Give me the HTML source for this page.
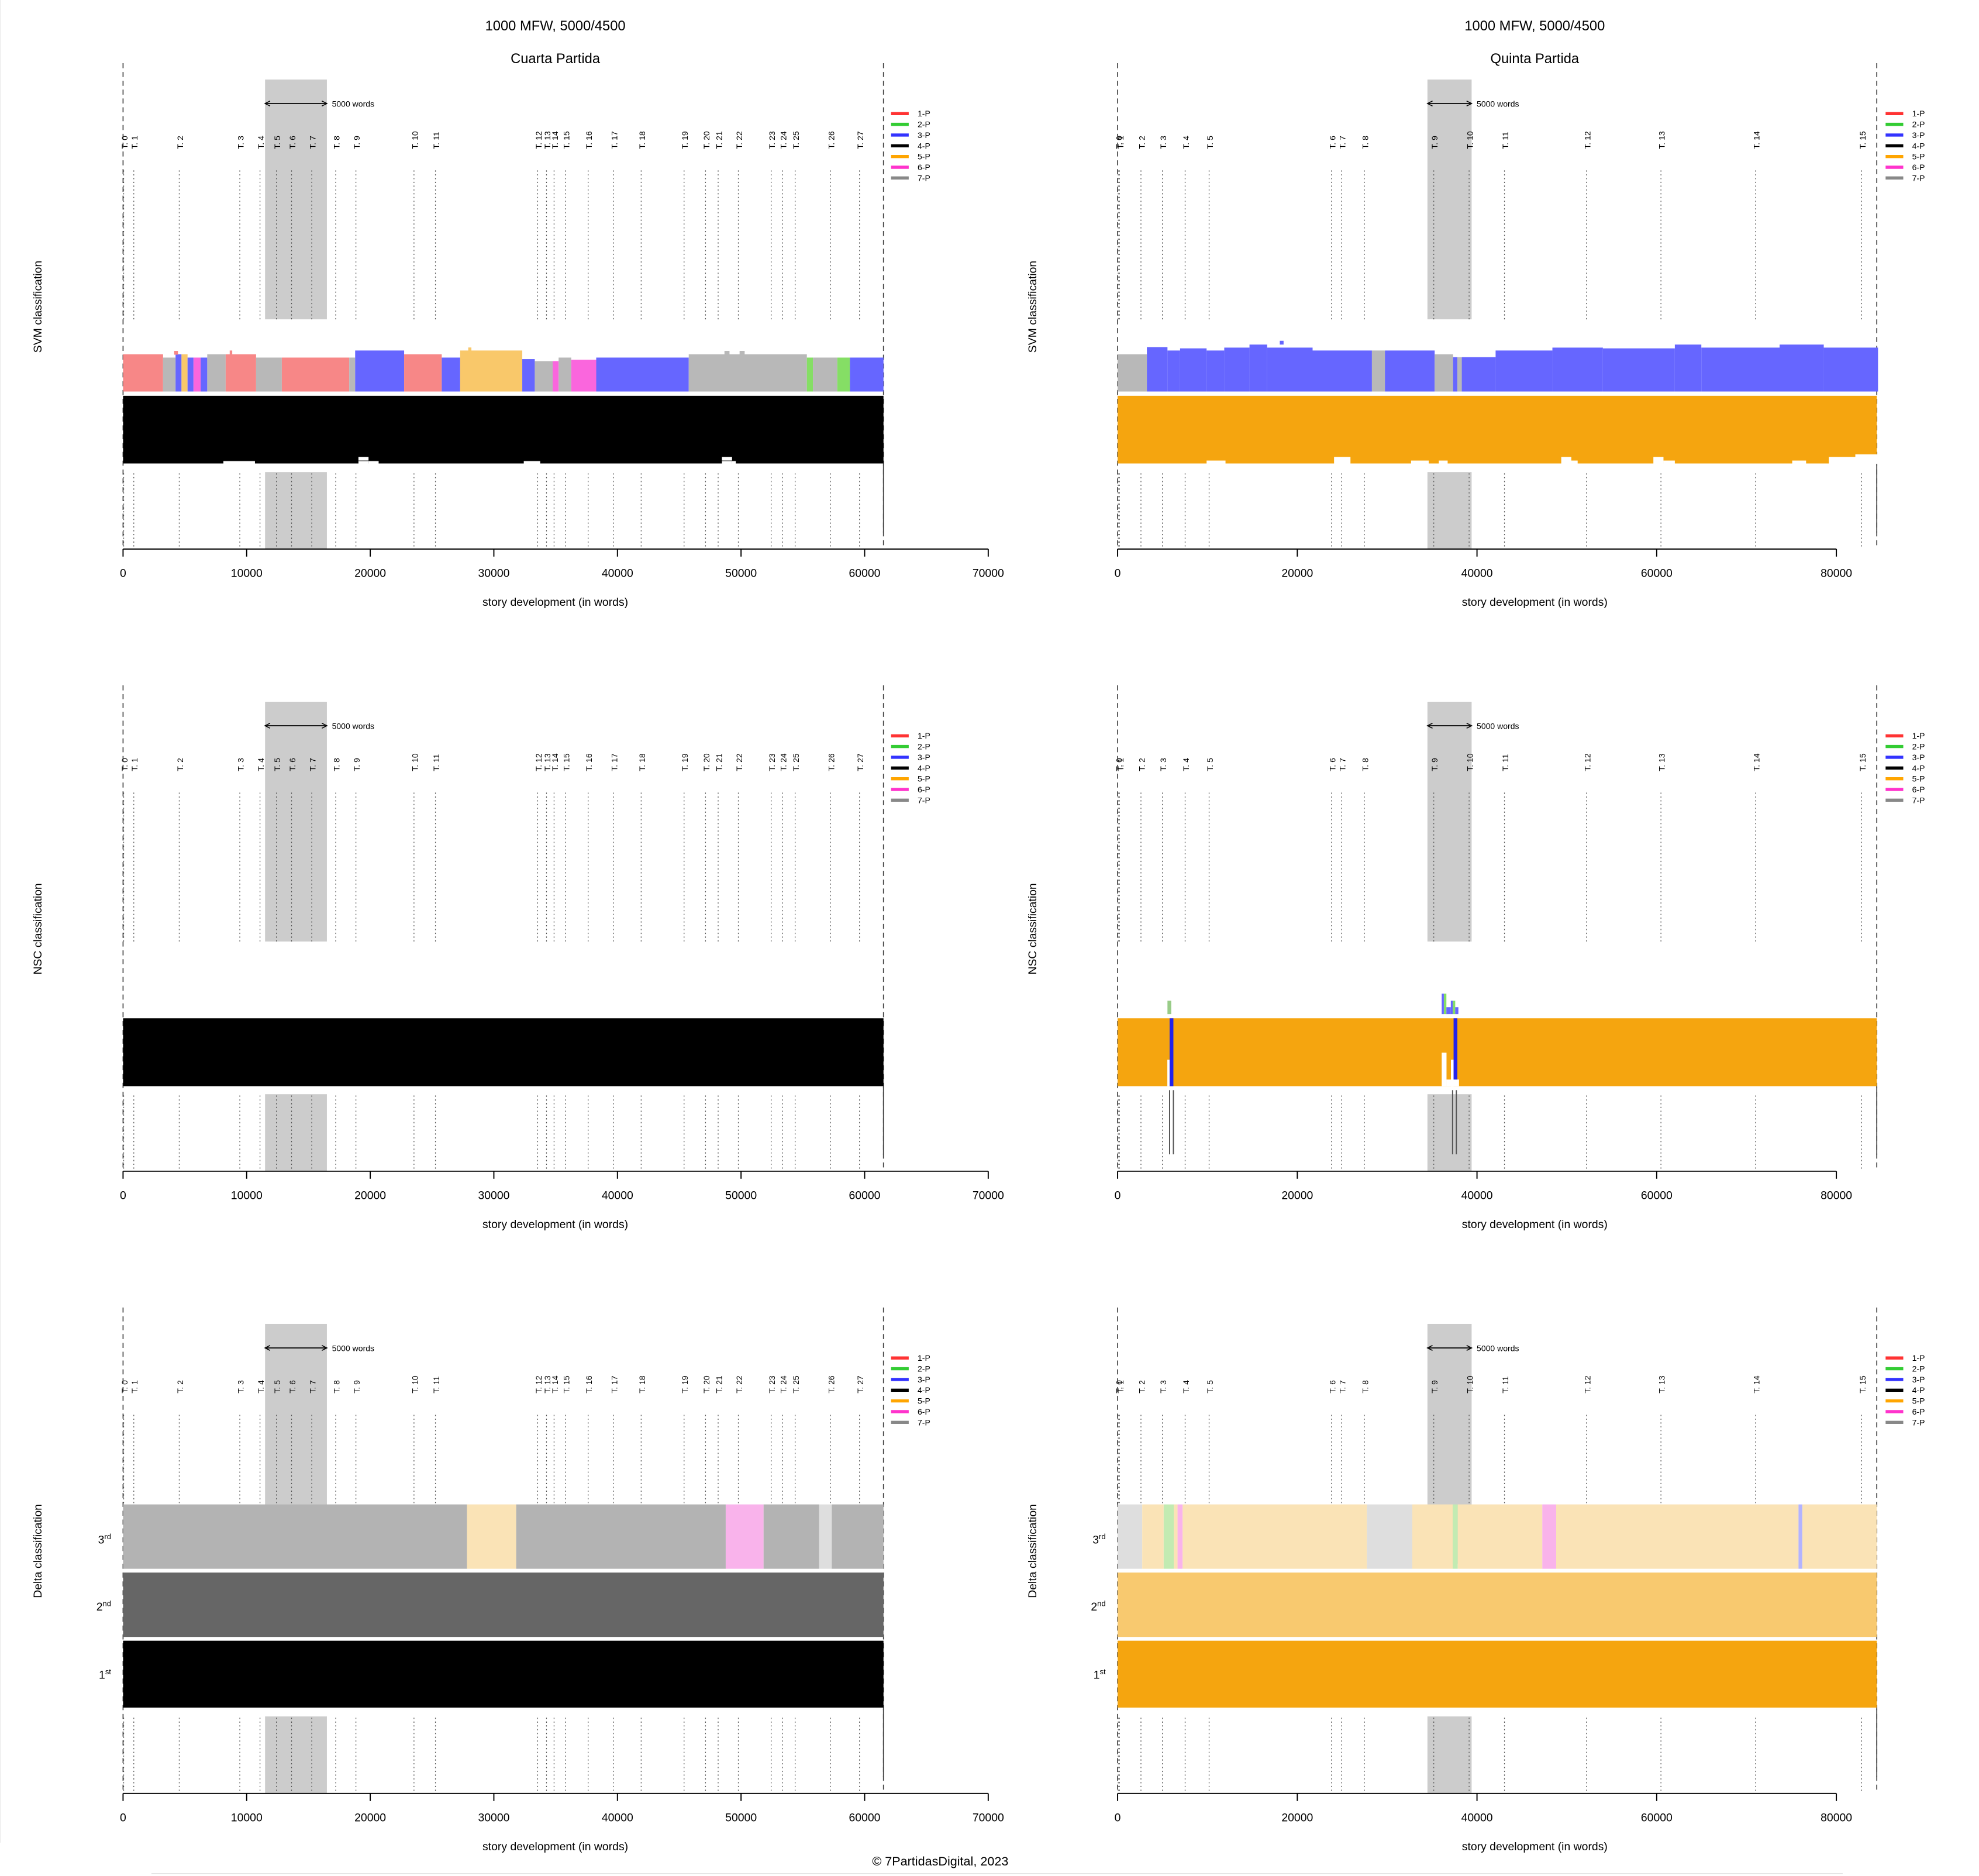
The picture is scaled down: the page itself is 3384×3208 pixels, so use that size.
<!DOCTYPE html>
<html><head><meta charset="utf-8"><style>html,body{margin:0;padding:0;background:#fff}svg{display:block}</style></head>
<body>
<svg id="s" xmlns="http://www.w3.org/2000/svg" width="3384" height="3208" viewBox="0 0 1568 1486.4" font-family="Liberation Sans, sans-serif"></svg>
<script>
var o=[];
function R(x1,y1,x2,y2,c){o.push('<rect x="'+x1+'" y="'+y1+'" width="'+(x2-x1)+'" height="'+(y2-y1)+'" fill="'+c+'"/>');}
function L(x1,y1,x2,y2,c,w,d){o.push('<line x1="'+x1+'" y1="'+y1+'" x2="'+x2+'" y2="'+y2+'" stroke="'+c+'" stroke-width="'+w+'"'+(d?' stroke-dasharray="'+d+'"':'')+'/>');}
function T(x,y,t,sz,anc,extra){o.push('<text x="'+x+'" y="'+y+'" font-size="'+sz+'" text-anchor="'+(anc||'middle')+'" '+(extra||'')+'>'+t+'</text>');}
var leftCh=[98,106,142,190,206,219,231,247,266,282,328,345,426,433,439,448,466,486,508,542,559,569,585,611,620,630,658,681];
var rightCh=[886,887,904,921,939,958,1055,1063,1081,1136,1164,1192,1257,1316,1391,1475];
var legC=['#ff3333','#33cc33','#3333ff','#000','#ffa500','#ff33cc','#888'];
function panel(side,oy,ylab){
  var L0=side?885.5:97.5, Le=side?1487:700, ch=side?rightCh:leftCh, gb=side?[1131,1166]:[210,259];
  var ax1=side?1455:783;
  var cx=side?1216:440;
  if(oy==0){T(cx,24,'1000 MFW, 5000/4500',11);T(cx,50,side?'Quinta Partida':'Cuarta Partida',11);}
  R(gb[0],63+oy,gb[1],253+oy,'#cccccc');
  R(gb[0],374+oy,gb[1],435+oy,'#cccccc');
  L(gb[0]+1,82+oy,gb[1]-1,82+oy,'#000',0.8);
  o.push('<path d="M'+(gb[0]+4)+' '+(80+oy)+'L'+gb[0]+' '+(82+oy)+'L'+(gb[0]+4)+' '+(84+oy)+'M'+(gb[1]-4)+' '+(80+oy)+'L'+gb[1]+' '+(82+oy)+'L'+(gb[1]-4)+' '+(84+oy)+'" fill="none" stroke="#000" stroke-width="0.7"/>');
  T(gb[1]+4,84.5+oy,'5000 words',6.5,'start');
  ch.forEach(function(x,i){
    L(x,135+oy,x,253+oy,'#555',0.6,'1,2');
    L(x,375+oy,x,435+oy,'#555',0.6,'1,2');
    T(x+3,118+oy,'T. '+i,6.5,'start','transform="rotate(-90 '+(x+3)+' '+(118+oy)+')"');
  });
  L(L0,50+oy,L0,435+oy,'#444',0.8,'4,3');
  L(Le,50+oy,Le,435+oy,'#444',0.8,'4,3');
  L(Le,368+oy,Le,422+oy,'#444',0.8);
  // legend
  var lx=side?1494:706;
  ['1-P','2-P','3-P','4-P','5-P','6-P','7-P'].forEach(function(t,i){
    var y=90+i*8.5+oy;L(lx,y,lx+14,y,legC[i],2.5);T(lx+21,y+2.3,t,6.5,'start');});
  // axis
  L(L0,435+oy,ax1,435+oy,'#000',0.9);
  var n=side?4:7;
  for(var i=0;i<=n;i++){var x=L0+(ax1-L0)*i/n;L(x,435+oy,x,441+oy,'#000',0.9);T(x,457+oy,i==0?'0':(side?i*20000:i*10000),9);}
  T(cx,480+oy,'story development (in words)',9);
  var yx=side?821:33;
  T(yx,243+oy,ylab,9,'middle','transform="rotate(-90 '+yx+' '+(243+oy)+')"');
}
panel(0,0,'SVM classification');panel(1,0,'SVM classification');
panel(0,493,'NSC classification');panel(1,493,'NSC classification');
panel(0,986,'Delta classification');panel(1,986,'Delta classification');

// SVM left colored strip
var red='#f78787',gr='#b8b8b8',bl='#6666ff',or='#f9c86a',pk='#fa66dd',gn='#85de65';
var segs=[[97.5,129.2,red,280.7],[129.2,139.1,gr,283.3],[139.1,143.8,bl,280.7],[143.8,148.6,or,280.7],[148.6,153.3,bl,283.3],[153.3,159,pk,283.3],[159,164.2,bl,283.3],[164.2,178.8,gr,280.7],[178.8,202.9,red,280.7],[202.9,223.3,gr,283.3],[223.3,276.7,red,283.3],[276.7,281.4,gr,283.3],[281.4,320.2,bl,277.7],[320.2,350,red,280.7],[350,364.6,bl,283.3],[364.6,413.8,or,277.7],[413.8,423.7,bl,284.5],[423.7,437.9,gr,286.1],[437.9,442.6,pk,286.1],[442.6,452.6,gr,283.3],[452.6,472.4,pk,285],[472.4,545.7,bl,283.3],[545.7,639.3,gr,280.7],[639.3,644.1,gn,283.3],[644.1,663.4,gr,283.3],[663.4,673.4,gn,283.3],[673.4,700,bl,283.3]];
segs.forEach(function(s){R(s[0],s[3],s[1],310.2,s[2]);});
R(138,278,141,281,red);R(371,275.3,373.5,278,or);R(182,277.7,184,281,red);R(586,278,590,281,gr);R(574,278,578,281,gr);
R(97.5,313.6,700,367.2,'#000');
[[177,202,364.9],[284,292,362],[292,300,364.9],[572,580,362],[580,583,364.9],[415,428,364.9]].forEach(function(b){R(b[0],b[2],b[1],367.5,'#fff');});
R(97.5,364.9,700,365.3,'#000');
// SVM right
R(885.5,280.7,908.7,310.2,gr);
var bt=[[908.7,925,275],[925,935,277.7],[935,956,276],[956,970,277.7],[970,990,275.4],[990,1004,273],[1004,1040,275.4],[1040,1087,277.7]];
bt.forEach(function(b){R(b[0],b[2],b[1],310.2,bl);});
R(1014,270,1017,273,bl);
R(1087,277.7,1097.3,310.2,gr);R(1097.3,277.7,1136.7,310.2,bl);R(1136.7,280.7,1151.3,310.2,gr);R(1151.3,283,1154.7,310.2,bl);R(1154.7,283,1158.2,310.2,gr);
[[1158.2,1185,283],[1185,1230,277.7],[1230,1270,275.4],[1270,1327,276],[1327,1348,273],[1348,1410,275.4],[1410,1445,273],[1445,1488,275.4]].forEach(function(b){R(b[0],b[2],b[1],310.2,bl);});
var ob='#f5a50f';
R(885.5,313.6,1487,367.2,ob);
[[956,971,364.9],[1057,1070,362],[1118,1132,364.9],[1140,1147,364.9],[1237,1245,362],[1244,1250,364.9],[1310,1318,362],[1318,1327,364.9],[1420,1431,364.9],[1449,1470,362],[1470,1488,360]].forEach(function(b){R(b[0],b[2],b[1],367.5,'#fff');});
// NSC left
R(97.5,806.8,700,860.6,'#000');
// NSC right
R(885.5,806.8,1487,860.6,ob);
R(924.9,839.6,926.7,860.6,'#fff');R(926.7,806.8,929.7,860.6,'#2222ee');
R(1142.3,834,1146.1,860.6,'#fff');R(1146.1,855.3,1156,860.6,'#fff');R(1149.6,839.6,1151.7,860.6,'#fff');R(1151.7,806.8,1154.7,855.3,'#2222ee');
R(925,792.9,928,803.5,'#99cc88');R(1142.3,787.3,1144,803.5,'#6666ff');R(1144,787.3,1146,803.5,gn);R(1146,798,1149.5,803.5,'#6666ff');R(1149.5,792.9,1151,803.5,'#6666ff');R(1151,792.9,1153,803.5,gn);R(1153,798,1155.5,803.5,'#6666ff');
[926.7,929.7,1150.9,1153.9].forEach(function(x){L(x,863.8,x,914.5,'#555',0.9);});
// Delta left
[[97.5,370,'#b3b3b3'],[370,409,'#fae3b6'],[409,575,'#b3b3b3'],[575,605,'#f9b3eb'],[605,649,'#b3b3b3'],[649,659,'#dedede'],[659,700,'#b3b3b3']].forEach(function(b){R(b[0],1192,b[1],1243,b[2]);});
R(97.5,1246,700,1297,'#666666');R(97.5,1300,700,1353,'#000');
// Delta right
[[885.5,905,'#dedede'],[905,922,'#fae3b6'],[922,930,'#c2ebb2'],[930,933,'#fae3b6'],[933,937,'#f9b3eb'],[937,1083,'#fae3b6'],[1083,1119,'#dedede'],[1119,1151,'#fae3b6'],[1151,1155,'#c2ebb2'],[1155,1222,'#fae3b6'],[1222,1233,'#f9b3eb'],[1233,1425,'#fae3b6'],[1425,1428,'#b3b3ff'],[1428,1487,'#fae3b6']].forEach(function(b){R(b[0],1192,b[1],1243,b[2]);});
R(885.5,1246,1487,1297,'#f8c96f');R(885.5,1300,1487,1353,ob);
[[88,0],[876,0]].forEach(function(p){var x=p[0];
 o.push('<text x="'+x+'" y="'+1223+'" font-size="9" text-anchor="end">3<tspan font-size="6" dy="-3.5">rd</tspan></text>');
 o.push('<text x="'+x+'" y="'+1276+'" font-size="9" text-anchor="end">2<tspan font-size="6" dy="-3.5">nd</tspan></text>');
 o.push('<text x="'+x+'" y="'+1330+'" font-size="9" text-anchor="end">1<tspan font-size="6" dy="-3.5">st</tspan></text>');});
T(745,1478,'© 7PartidasDigital, 2023',10);
L(120,1484.5,1460,1484.5,'#e4e4e4',0.8);
L(0.5,0,0.5,1460,'#eee',0.8);
document.getElementById('s').innerHTML=o.join('');
</script>
</body></html>
